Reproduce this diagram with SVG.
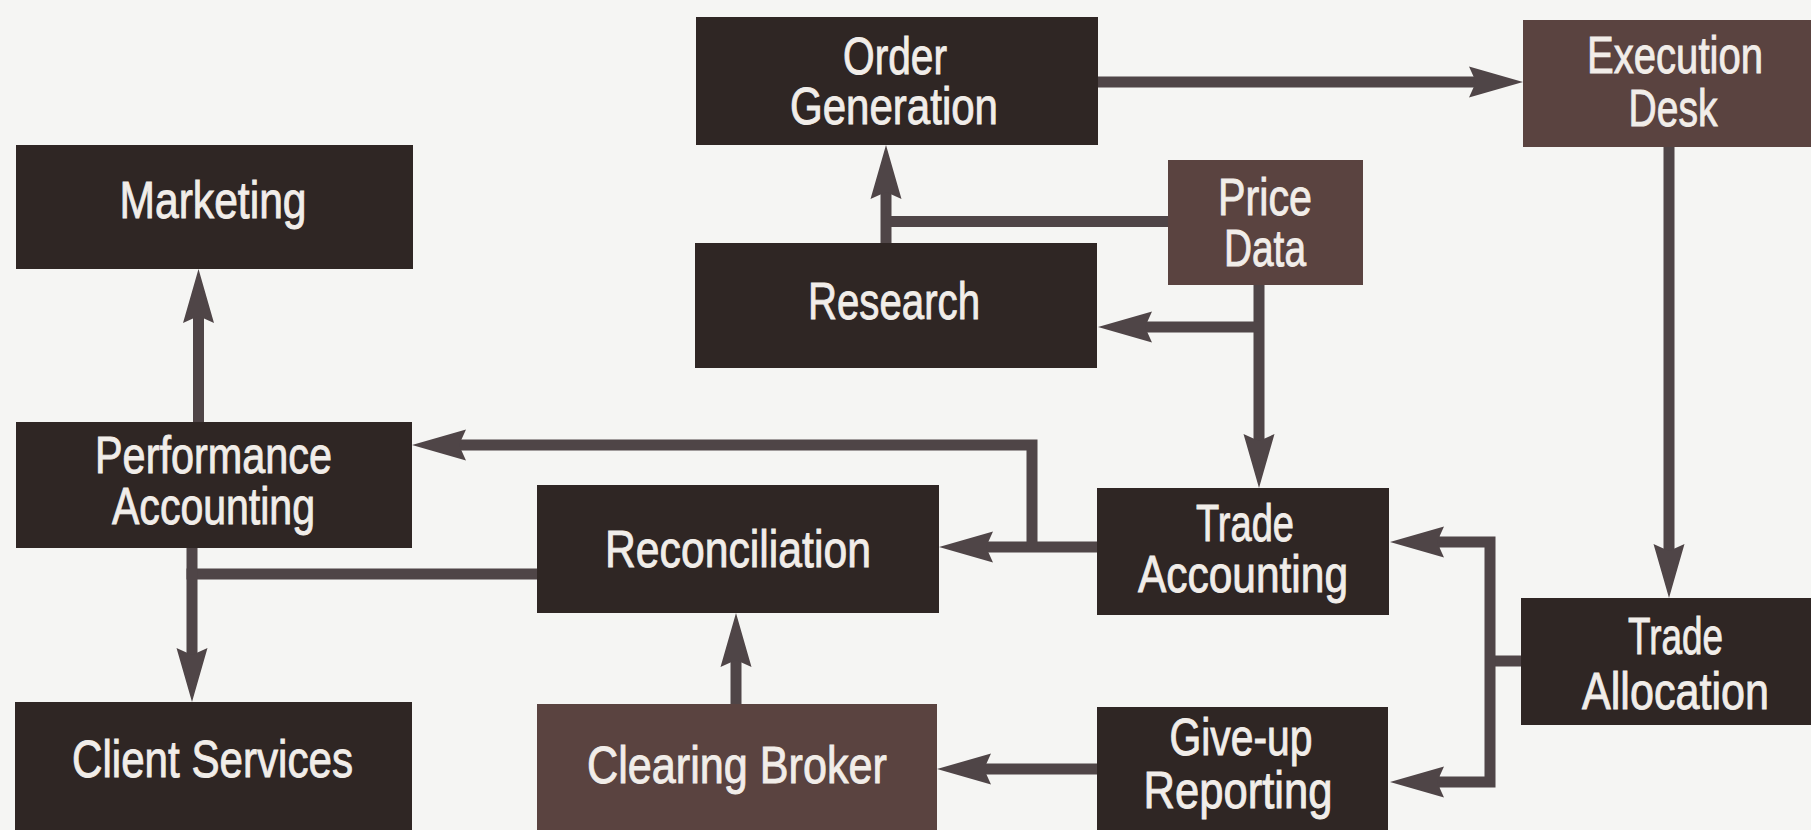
<svg xmlns="http://www.w3.org/2000/svg" width="1811" height="830" viewBox="0 0 1811 830">
  <style>
    .bg { fill: #f5f5f3; }
    .box { stroke: none; }
    .dark { fill: #2f2624; }
    .light { fill: #5a4340; }
    .lbl { font-family: "Liberation Sans Narrow", "Liberation Sans", Arial, sans-serif; font-size: 52px; font-weight: normal; fill: #f1ede9; stroke: #f1ede9; stroke-width: 0.9; text-anchor: middle; }
    .wire { fill: none; stroke: #4f4547; stroke-width: 11; stroke-linejoin: miter; stroke-linecap: butt; }
  </style>
  <defs>
    <!-- slender barbed arrowhead; the shaft ends 44px short of the tip -->
    <marker id="arrow" viewBox="-12 -17 58 34" markerWidth="58" markerHeight="34" refX="0" refY="0" orient="auto" markerUnits="userSpaceOnUse">
      <path d="M44,0 L-10,-15.5 L-3,0 L-10,15.5 Z" fill="#4f4547"/>
    </marker>
  </defs>

  <rect class="bg" x="0" y="0" width="1811" height="830"/>

  <!-- connectors -->
  <g id="connectors">
    <path class="wire" d="M1098,82 H1479" marker-end="url(#arrow)"/>
    <path class="wire" d="M886,243 V189" marker-end="url(#arrow)"/>
    <path class="wire" d="M1168,221.5 H886"/>
    <path class="wire" d="M1259,285 V444" marker-end="url(#arrow)"/>
    <path class="wire" d="M1259,327 H1142" marker-end="url(#arrow)"/>
    <path class="wire" d="M1097,547 H983" marker-end="url(#arrow)"/>
    <path class="wire" d="M1032,547 V445 H456" marker-end="url(#arrow)"/>
    <path class="wire" d="M537,574 H186.5"/>
    <path class="wire" d="M198.5,422 V313" marker-end="url(#arrow)"/>
    <path class="wire" d="M192,548 V658" marker-end="url(#arrow)"/>
    <path class="wire" d="M736,704 V657" marker-end="url(#arrow)"/>
    <path class="wire" d="M1097,769 H981" marker-end="url(#arrow)"/>
    <path class="wire" d="M1669,147 V554" marker-end="url(#arrow)"/>
    <path class="wire" d="M1521,661 H1490"/>
    <path class="wire" d="M1434,542 H1490 V782 H1434"/>
    <path class="wire" d="M1440,542 H1434" marker-end="url(#arrow)"/>
    <path class="wire" d="M1440,782 H1434" marker-end="url(#arrow)"/>
  </g>

  <!-- nodes -->
  <g id="order-generation">
    <rect class="box dark" x="696" y="17" width="402" height="128"/>
    <text class="lbl" x="895" y="74" textLength="104" lengthAdjust="spacingAndGlyphs">Order</text>
    <text class="lbl" x="894" y="124" textLength="208" lengthAdjust="spacingAndGlyphs">Generation</text>
  </g>

  <g id="execution-desk">
    <rect class="box light" x="1523" y="20" width="288" height="127"/>
    <text class="lbl" x="1675" y="73" textLength="176" lengthAdjust="spacingAndGlyphs">Execution</text>
    <text class="lbl" x="1673" y="126" textLength="89" lengthAdjust="spacingAndGlyphs">Desk</text>
  </g>

  <g id="price-data">
    <rect class="box light" x="1168" y="160" width="195" height="125"/>
    <text class="lbl" x="1265" y="215" textLength="94" lengthAdjust="spacingAndGlyphs">Price</text>
    <text class="lbl" x="1265" y="266" textLength="82" lengthAdjust="spacingAndGlyphs">Data</text>
  </g>

  <g id="research">
    <rect class="box dark" x="695" y="243" width="402" height="125"/>
    <text class="lbl" x="894" y="319" textLength="172" lengthAdjust="spacingAndGlyphs">Research</text>
  </g>

  <g id="marketing">
    <rect class="box dark" x="16" y="145" width="397" height="124"/>
    <text class="lbl" x="213" y="218" textLength="187" lengthAdjust="spacingAndGlyphs">Marketing</text>
  </g>

  <g id="performance-accounting">
    <rect class="box dark" x="16" y="422" width="396" height="126"/>
    <text class="lbl" x="213.5" y="473" textLength="237" lengthAdjust="spacingAndGlyphs">Performance</text>
    <text class="lbl" x="213.5" y="524" textLength="203" lengthAdjust="spacingAndGlyphs">Accounting</text>
  </g>

  <g id="client-services">
    <rect class="box dark" x="15" y="702" width="397" height="128"/>
    <text class="lbl" x="212.5" y="777" textLength="281" lengthAdjust="spacingAndGlyphs">Client Services</text>
  </g>

  <g id="reconciliation">
    <rect class="box dark" x="537" y="485" width="402" height="128"/>
    <text class="lbl" x="738" y="567" textLength="266" lengthAdjust="spacingAndGlyphs">Reconciliation</text>
  </g>

  <g id="trade-accounting">
    <rect class="box dark" x="1097" y="488" width="292" height="127"/>
    <text class="lbl" x="1245" y="541" textLength="98" lengthAdjust="spacingAndGlyphs">Trade</text>
    <text class="lbl" x="1243" y="592" textLength="210" lengthAdjust="spacingAndGlyphs">Accounting</text>
  </g>

  <g id="clearing-broker">
    <rect class="box light" x="537" y="704" width="400" height="126"/>
    <text class="lbl" x="737" y="783" textLength="300" lengthAdjust="spacingAndGlyphs">Clearing Broker</text>
  </g>

  <g id="give-up-reporting">
    <rect class="box dark" x="1097" y="707" width="291" height="123"/>
    <text class="lbl" x="1241" y="755" textLength="143" lengthAdjust="spacingAndGlyphs">Give-up</text>
    <text class="lbl" x="1238" y="808" textLength="189" lengthAdjust="spacingAndGlyphs">Reporting</text>
  </g>

  <g id="trade-allocation">
    <rect class="box dark" x="1521" y="598" width="290" height="127"/>
    <text class="lbl" x="1675.5" y="654" textLength="95" lengthAdjust="spacingAndGlyphs">Trade</text>
    <text class="lbl" x="1675.5" y="709" textLength="187" lengthAdjust="spacingAndGlyphs">Allocation</text>
  </g>
</svg>
